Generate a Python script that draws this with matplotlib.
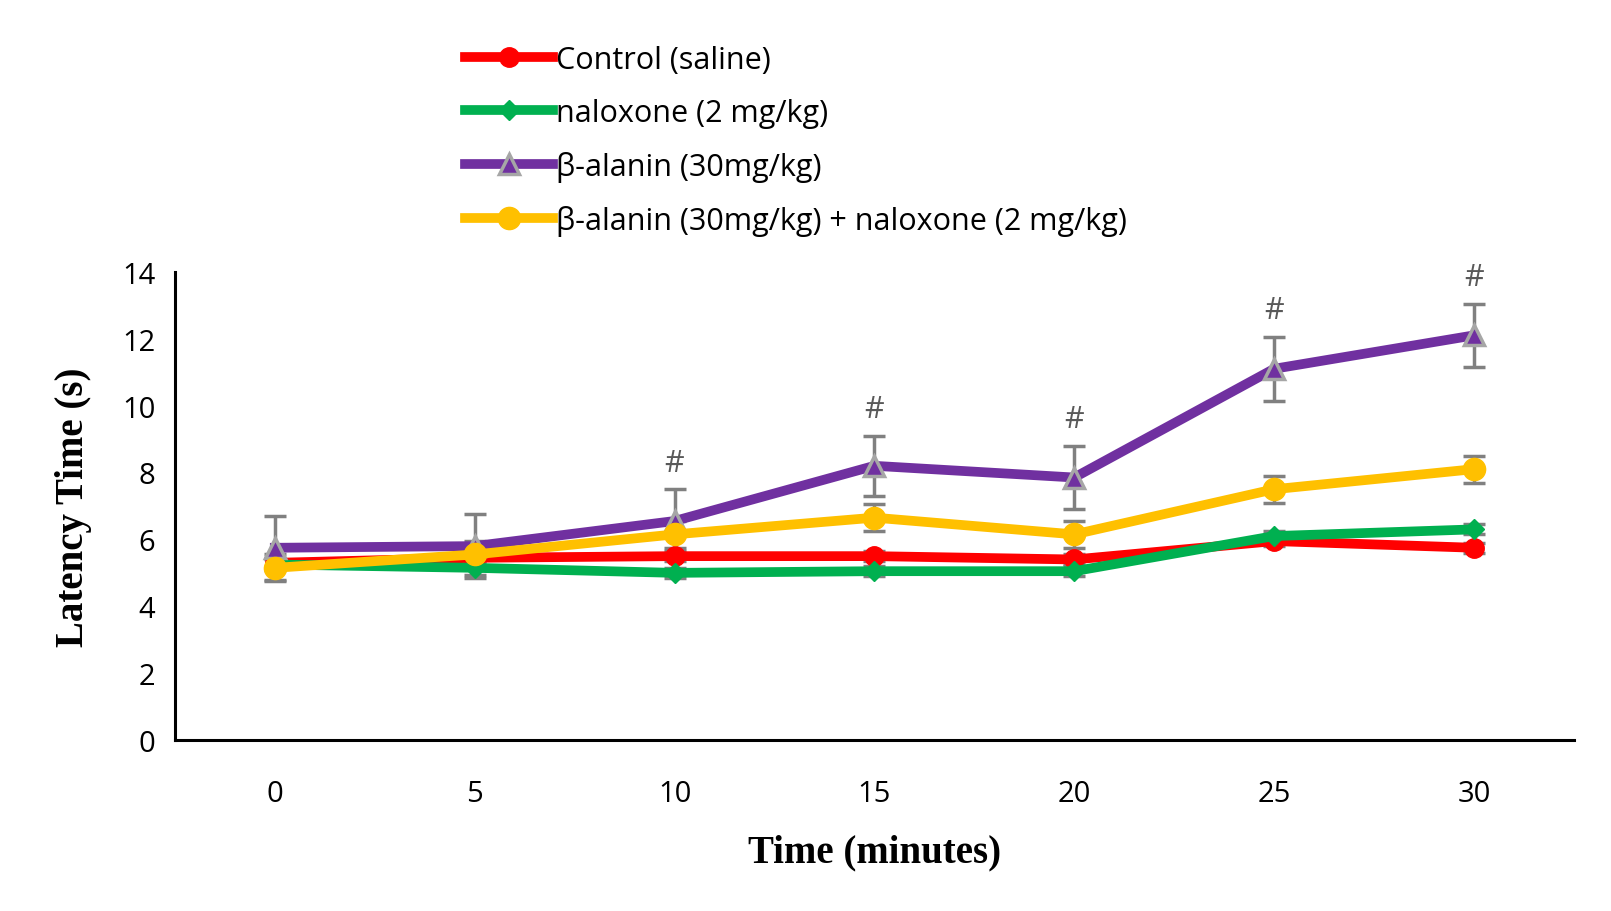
import matplotlib
matplotlib.use("Agg")
import matplotlib.pyplot as plt
from matplotlib.lines import Line2D

time = [0, 5, 10, 15, 20, 25, 30]
control = [5.3, 5.45, 5.5, 5.5, 5.4, 5.95, 5.75]
control_err = [0.15, 0.15, 0.15, 0.15, 0.15, 0.15, 0.15]
naloxone = [5.25, 5.15, 5.0, 5.05, 5.05, 6.1, 6.3]
naloxone_err = [0.15, 0.2, 0.15, 0.15, 0.15, 0.15, 0.15]
beta = [5.75, 5.8, 6.55, 8.2, 7.85, 11.1, 12.1]
beta_err = [0.95, 0.95, 0.95, 0.9, 0.95, 0.95, 0.95]
combo = [5.15, 5.55, 6.15, 6.65, 6.15, 7.5, 8.1]
combo_err = [0.4, 0.4, 0.4, 0.4, 0.4, 0.4, 0.4]
labels = ["Control (saline)", "naloxone (2 mg/kg)", "β-alanin (30mg/kg)",
          "β-alanin (30mg/kg) + naloxone (2 mg/kg)"]
sig_times = [10, 15, 20, 25, 30]

fig = plt.figure(figsize=(16.11, 9.12), dpi=100)
W, H = 1566, 886
ax = fig.add_axes([170/W, 1-720/H, 1360/W, 455/H])
sans = "Open Sans"

series = [
    (control, control_err, "#FF0000", "o", "#FF0000", 14),
    (naloxone, naloxone_err, "#00B050", "D", "#00B050", 10),
    (beta, beta_err, "#7030A0", "^", "#A6A6A6", 15),
    (combo, combo_err, "#FFC000", "o", "#FFC000", 16),
]
handles = []
for (vals, err, col, mk, mec, ms), lab in zip(series, labels):
    ax.errorbar(time, vals, yerr=err, fmt="none", ecolor="#808080",
                elinewidth=2.5, capsize=8, capthick=2.5, zorder=2)
    ax.plot(time, vals, color=col, lw=7, marker=mk, ms=ms, mfc=col,
            mec=mec, mew=2.5 if mk == "^" else 1, zorder=3)
    handles.append(Line2D([], [], color=col, lw=7, marker=mk, ms=ms,
                          mfc=col, mec=mec, mew=2.5 if mk == "^" else 1))

for t in sig_times:
    i = time.index(t)
    ax.text(t, beta[i] + beta_err[i] + 0.35, "#", ha="center", va="bottom",
            fontsize=22, color="#595959", family=sans)

ax.set_xlim(-2.5, 32.5)
ax.set_ylim(0, 14)
ax.set_xticks(time)
ax.set_yticks(range(0, 15, 2))
ax.tick_params(length=0, labelsize=21, pad=14)
for lab in ax.get_xticklabels() + ax.get_yticklabels():
    lab.set_family(sans)
ax.tick_params(axis="x", pad=28)
for s in ["top", "right"]:
    ax.spines[s].set_visible(False)
for s in ["left", "bottom"]:
    ax.spines[s].set_linewidth(2.2)
ax.set_xlabel("Time (minutes)", family="Liberation Serif", fontweight="bold",
              fontsize=28, labelpad=18)
ax.set_ylabel("Latency Time (s)", family="Liberation Serif", fontweight="bold",
              fontsize=28, labelpad=22)

fig.legend(handles, labels, loc="upper left", bbox_to_anchor=(425/W, 1-18/H),
           frameon=False, prop={"family": sans, "size": 22}, handlelength=2.9,
           handletextpad=0.1, labelspacing=0.75)
fig.savefig("out.png", dpi=100)
